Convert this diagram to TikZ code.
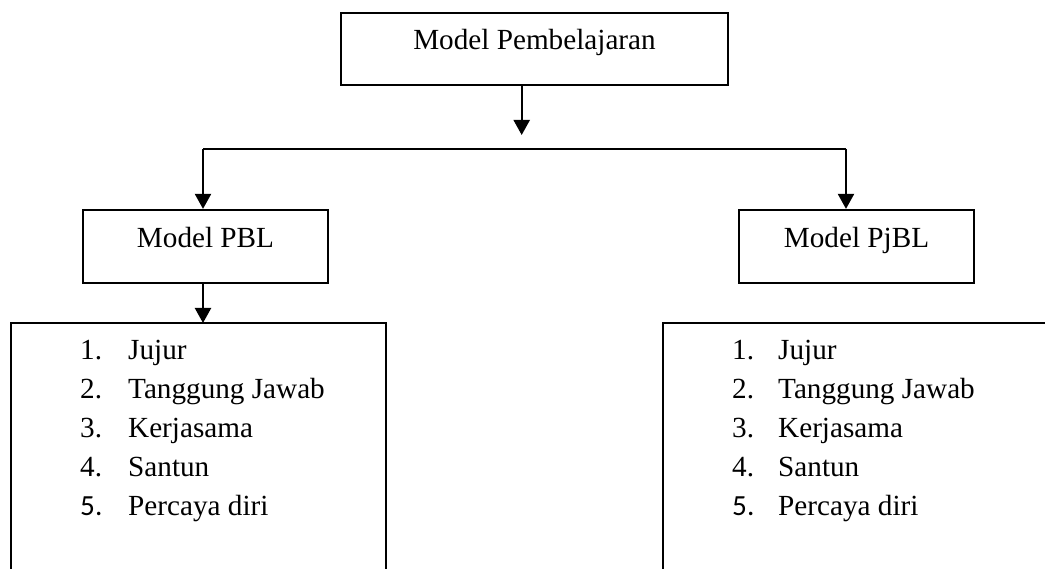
\documentclass[tikz,border=0pt]{standalone}
\usepackage{fontspec}
\setmainfont{Liberation Serif}
\newfontfamily\calib{Carlito}
\usetikzlibrary{arrows.meta}
\begin{document}
\begin{tikzpicture}[x=1pt,y=-1pt,
  every node/.style={font=\fontsize{29.2}{38.8}\selectfont},
  boxnode/.style={draw,line width=2.2pt,inner sep=0pt,text height=19pt,text depth=16pt},
  lineS/.style={line width=2.2pt},
  arr/.style={line width=2.2pt,-{Triangle[width=16pt,length=15pt]}},
  item/.style={anchor=base west,inner sep=0pt}]
\useasboundingbox (0,0) rectangle (1045,569);
% boxes
\node[boxnode,minimum width=387pt,minimum height=72.3pt,text depth=17pt] (top) at (534.5,48.9) {Model Pembelajaran};
\node[boxnode,minimum width=245pt,minimum height=73pt,text height=18pt] (pbl) at (205.5,246.5) {Model PBL};
\node[boxnode,minimum width=235pt,minimum height=73pt,text height=18pt] (pjbl) at (856.5,246.5) {Model PjBL};
% open list boxes
\coordinate (lbox) at (11,323);
\coordinate (rbox) at (663,323);
\draw[lineS] (lbox |- 0,572) -- (lbox) -- (386,323) -- (386,572);
\draw[lineS] (rbox |- 0,572) -- (rbox) -- (1048,323);
% connectors
\coordinate (mid) at (521.7,149);
\coordinate (jl) at (203,149);
\coordinate (jr) at (846,149);
\draw[arr] (mid |- top.south) -- (521.7,135);
\draw[lineS] (jl) -- (jr);
\draw[arr] (jl) -- (jl |- pbl.north);
\draw[arr] (jr) -- (jr |- pjbl.north);
\draw[arr] (jl |- pbl.south) -- (jl |- lbox);
% lists
\foreach \n/\t/\y in {1/Jujur/360,2/Tanggung Jawab/398.8,3/Kerjasama/437.6,4/Santun/476.4}{
  \node[item] (ln\n) at (80,\y) {\n.};
  \node[item] (lt\n) at (128,\y) {\t};
  \node[item] (rn\n) at (732,\y) {\n.};
  \node[item] (rt\n) at (778,\y) {\t};
}
\node[item,font=\calib\fontsize{29.2}{38.8}\selectfont] (ln5) at (80,515.2) {5.};
\node[item] (lt5) at (128,515.2) {Percaya diri};
\node[item,font=\calib\fontsize{29.2}{38.8}\selectfont] (rn5) at (732,515.2) {5.};
\node[item] (rt5) at (778,515.2) {Percaya diri};
\end{tikzpicture}
\end{document}
